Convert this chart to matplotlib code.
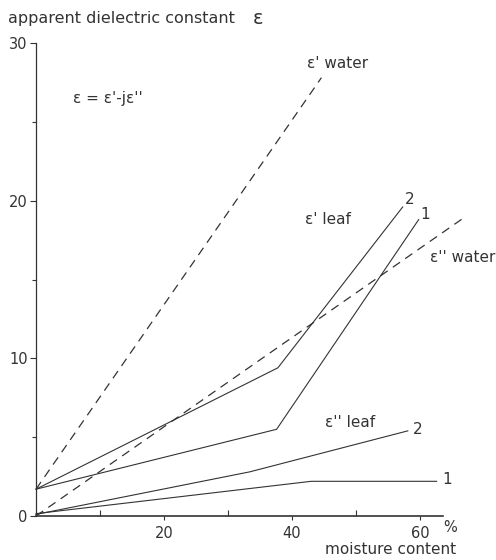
import matplotlib
matplotlib.use('Agg')
import matplotlib.pyplot as plt
import numpy as np

# moisture content (%) / apparent dielectric constant values
water_real_x = [0, 44.6]
water_real_y = [1.7, 27.8]
water_imag_x = [0, 66.8]
water_imag_y = [0, 18.9]

leaf_real_1_x = [0, 37.6, 59.8]
leaf_real_1_y = [1.7, 5.5, 18.8]
leaf_real_2_x = [0, 37.8, 57.3]
leaf_real_2_y = [1.7, 9.4, 19.6]

leaf_imag_1_x = [0, 43.0, 62.6]
leaf_imag_1_y = [0.15, 2.2, 2.2]
leaf_imag_2_x = [0, 33.4, 58.1]
leaf_imag_2_y = [0.1, 2.8, 5.4]

y_ticks = [0, 10, 20, 30]
x_ticks = [20, 40, 60]

fontsz = 10.5
labelsz = 11
ink = '#333333'

fig = plt.figure(figsize=(4.96, 5.6), dpi=100)
ax = fig.add_axes([36 / 496, 1 - 516 / 560, (443 - 36) / 496, (516 - 43) / 560])

dash = (0, (7, 5))
ax.plot(water_real_x, water_real_y, color=ink, lw=0.9, ls=dash, clip_on=False)
ax.plot(water_imag_x, water_imag_y, color=ink, lw=0.9, ls=dash, clip_on=False)
for xs, ys in [(leaf_real_1_x, leaf_real_1_y), (leaf_real_2_x, leaf_real_2_y),
               (leaf_imag_1_x, leaf_imag_1_y), (leaf_imag_2_x, leaf_imag_2_y)]:
    ax.plot(xs, ys, color=ink, lw=0.8, clip_on=False)

ax.set_xlim(0, 63.6)
ax.set_ylim(0, 30)
ax.spines['top'].set_visible(False)
ax.spines['right'].set_visible(False)
ax.spines['left'].set_color(ink)
ax.spines['bottom'].set_color(ink)
ax.spines['left'].set_linewidth(0.9)
ax.spines['bottom'].set_linewidth(1.2)

ax.set_yticks(y_ticks)
ax.set_yticklabels([str(v) for v in y_ticks], fontsize=fontsz, color=ink)
ax.set_yticks([5, 15, 25], minor=True)
ax.set_xticks(x_ticks)
ax.set_xticklabels([str(v) for v in x_ticks], fontsize=fontsz, color=ink)
ax.set_xticks([10, 30, 50], minor=True)
ax.tick_params(axis='y', which='major', direction='out', length=4, width=0.8, color=ink, pad=2)
ax.tick_params(axis='y', which='minor', direction='out', length=3, width=0.8, color=ink)
ax.tick_params(axis='x', which='major', direction='out', length=3, width=0.8, color=ink, pad=4)
ax.tick_params(axis='x', which='minor', direction='in', length=4, width=0.8, color=ink)

# text labels
ax.text(5.8, 26.5, "ε = ε'-jε''", fontsize=labelsz, color=ink, va='center')
ax.text(42.4, 28.7, "ε' water", fontsize=labelsz, color=ink, va='center')
ax.text(42.0, 18.8, "ε' leaf", fontsize=labelsz, color=ink, va='center')
ax.text(61.6, 16.4, "ε'' water", fontsize=labelsz, color=ink, va='center', clip_on=False)
ax.text(45.1, 5.9, "ε'' leaf", fontsize=labelsz, color=ink, va='center')
ax.text(57.7, 20.1, "2", fontsize=labelsz, color=ink, va='center')
ax.text(60.1, 19.1, "1", fontsize=labelsz, color=ink, va='center')
ax.text(58.9, 5.5, "2", fontsize=labelsz, color=ink, va='center')
ax.text(63.5, 2.3, "1", fontsize=labelsz, color=ink, va='center', clip_on=False)

fig.text(8 / 496, 1 - 18 / 560, 'apparent dielectric constant', fontsize=11.5, color=ink, va='center')
fig.text(253 / 496, 1 - 18 / 560, 'ε', fontsize=14, color=ink, va='center')
fig.text(443 / 496, 1 - 528 / 560, '%', fontsize=fontsz, color=ink, va='center')
fig.text(456 / 496, 1 - 550 / 560, 'moisture content', fontsize=labelsz, color=ink, va='center', ha='right')

fig.savefig('out.png', dpi=100)
